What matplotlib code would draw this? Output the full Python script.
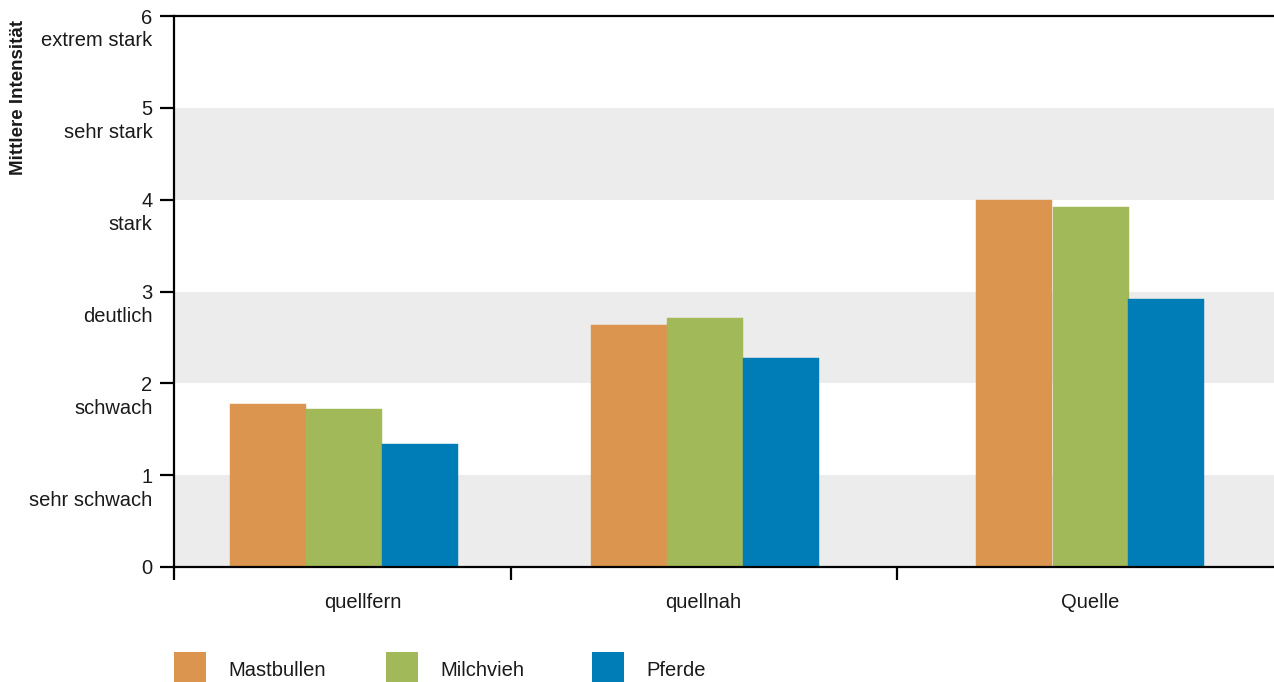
import matplotlib
matplotlib.use("Agg")
import matplotlib.pyplot as plt
from matplotlib.patches import Rectangle
import numpy as np

plt.rcParams['font.family'] = ['Liberation Sans', 'DejaVu Sans']

# data
groups = ['quellfern', 'quellnah', 'Quelle']
series = ['Mastbullen', 'Milchvieh', 'Pferde']
mastbullen = [1.78, 2.64, 4.00]
milchvieh = [1.72, 2.71, 3.92]
pferde = [1.34, 2.28, 2.92]
colors = ['#DC954F', '#A2B95A', '#007DB6']
y_ticks = [0, 1, 2, 3, 4, 5, 6]
y_words = ['sehr schwach', 'schwach', 'deutlich', 'stark', 'sehr stark', 'extrem stark']

# layout (axis units, 1 unit ~ 100 px)
group_x = np.array([1.695, 5.305, 9.165])
label_x = [1.89, 5.29, 9.16]
sep_x = [0, 3.37, 7.23]
bw = 0.76

txt = '#1a1a1a'
fs = 14.5
fig = plt.figure(figsize=(12.74, 6.82), dpi=100)
ax = fig.add_axes([174 / 1274, 1 - 567 / 682, 1 - 174 / 1274, (567 - 16) / 682])

for lo in (0, 2, 4):
    ax.axhspan(lo, lo + 1, color='#ECECEC', zorder=0, lw=0)

for i, vals in enumerate([mastbullen, milchvieh, pferde]):
    ax.bar(group_x + (i - 1) * bw, vals, width=bw, color=colors[i], zorder=2,
           edgecolor=colors[i], lw=0.3)

ax.set_xlim(0, 11)
ax.set_ylim(0, 6)

for s in ['left', 'bottom', 'top']:
    ax.spines[s].set_linewidth(1.6)
    ax.spines[s].set_color('black')
ax.spines['right'].set_visible(False)
ax.spines['bottom'].set_zorder(3)

ax.set_yticks(y_ticks)
ax.set_yticklabels([str(t) for t in y_ticks])
ax.set_yticks([t + 0.75 for t in y_ticks[:-1]], minor=True)
ax.set_yticklabels(y_words, minor=True)
ax.tick_params(axis='y', which='major', length=10, width=1.6, pad=5.5, labelsize=fs, labelcolor=txt)
ax.tick_params(axis='y', which='minor', length=0, pad=15.5, labelsize=fs, labelcolor=txt)

ax.set_xticks(sep_x)
ax.set_xticklabels([])
ax.set_xticks(label_x, minor=True)
ax.set_xticklabels(groups, minor=True)
ax.tick_params(axis='x', which='major', length=9, width=1.6)
ax.tick_params(axis='x', which='minor', length=0, pad=19, labelsize=fs, labelcolor=txt)

fig.text(19 / 1274, 1 - 97 / 682, 'Mittlere Intensität', rotation=90, ha='center', va='center',
         fontsize=13.5, fontweight='bold', color=txt)

# legend
leg_x = [174, 386, 592]
for i, name in enumerate(series):
    x0 = leg_x[i]
    fig.patches.append(Rectangle((x0 / 1274, 1 - 683 / 682), 32 / 1274, 31 / 682,
                                 transform=fig.transFigure, color=colors[i], lw=0))
    fig.text((x0 + 54) / 1274, 1 - 670 / 682, name, ha='left', va='center',
             fontsize=fs, color=txt)

fig.savefig('out.png', dpi=100)
